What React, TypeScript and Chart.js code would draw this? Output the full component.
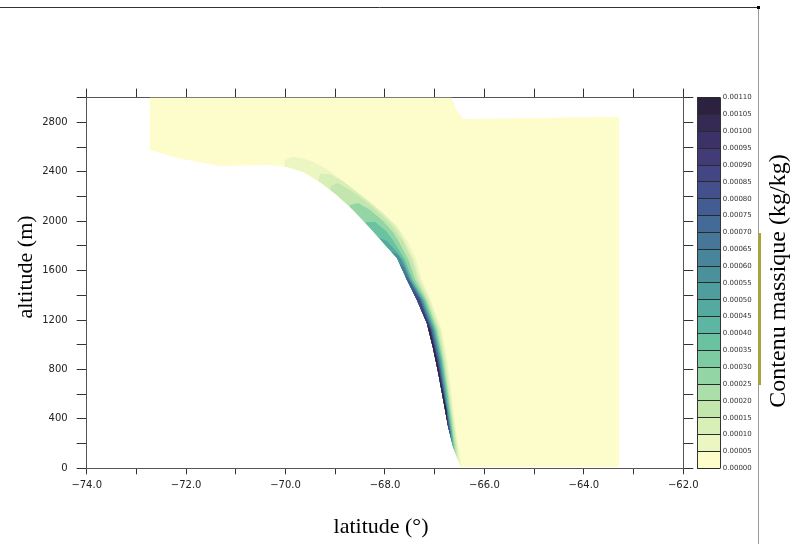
import React, { useEffect, useRef } from "react";
import { Chart, registerables } from "chart.js";

// ---------------- data ----------------
const latTicks = [-74, -73, -72, -71, -70, -69, -68, -67, -66, -65, -64, -63, -62];
const latLabels = ["\u221274.0", "", "\u221272.0", "", "\u221270.0", "", "\u221268.0", "", "\u221266.0", "", "\u221264.0", "", "\u221262.0"];
const altTicks = [0, 200, 400, 600, 800, 1000, 1200, 1400, 1600, 1800, 2000, 2200, 2400, 2600, 2800, 3000];
const altLabels = ["0", "", "400", "", "800", "", "1200", "", "1600", "", "2000", "", "2400", "", "2800", ""];
const contourLevels = [0, 0.00005, 0.0001, 0.00015, 0.0002, 0.00025, 0.0003, 0.00035, 0.0004, 0.00045, 0.0005, 0.00055, 0.0006, 0.00065, 0.0007, 0.00075, 0.0008, 0.00085, 0.0009, 0.00095, 0.001, 0.00105, 0.0011];
const contourLabels = ["0.00000", "0.00005", "0.00010", "0.00015", "0.00020", "0.00025", "0.00030", "0.00035", "0.00040", "0.00045", "0.00050", "0.00055", "0.00060", "0.00065", "0.00070", "0.00075", "0.00080", "0.00085", "0.00090", "0.00095", "0.00100", "0.00105", "0.00110"];

// model domain (value >= 0), outline in (latitude, altitude)
const domainLat = [-72.73, -66.66, -66.56, -66.43, -63.29, -63.29, -66.48, -66.63, -66.73, -66.83, -66.93, -67.04, -67.16, -67.36, -67.56, -67.76, -67.96, -68.30, -68.64, -68.97, -69.31, -69.65, -69.97, -70.31, -71.32, -72.18, -72.73];
const domainAlt = [3000, 3000, 2900, 2827, 2845, 10, 10, 172, 334, 553, 771, 982, 1176, 1362, 1525, 1702, 1791, 1945, 2091, 2212, 2317, 2398, 2438, 2454, 2446, 2511, 2576];

// contour bands: lower bound of each band and its outer contour line
const bandLevels = [0.00005, 0.0001, 0.00015, 0.00025, 0.00035, 0.00045, 0.00055, 0.00065, 0.00075, 0.00085, 0.00095, 0.00105];
const bandLat = [
  [-70.03, -70.01, -69.87, -69.67, -69.45, -69.17, -68.91, -68.56, -68.30, -68.04, -67.78, -67.56, -67.37, -67.26, -67.08, -66.86, -66.75, -66.67, -66.60, -66.53, -66.48, -66.47, -66.69],
  [-69.37, -69.31, -69.11, -68.85, -68.54, -68.26, -67.98, -67.74, -67.62, -67.42, -67.30, -67.11, -66.89, -66.78, -66.70, -66.62, -66.55, -66.52, -66.71],
  [-69.11, -69.09, -68.95, -68.70, -68.42, -68.16, -67.90, -67.65, -67.46, -67.34, -67.14, -66.92, -66.80, -66.72, -66.64, -66.57, -66.54, -66.73],
  [-68.74, -68.70, -68.54, -68.30, -68.04, -67.84, -67.74, -67.53, -67.39, -67.17, -66.95, -66.83, -66.74, -66.66, -66.60, -66.57, -66.75],
  [-68.42, -68.38, -68.20, -67.98, -67.84, -67.60, -67.44, -67.20, -66.98, -66.85, -66.76, -66.68, -66.63, -66.60, -66.77],
  [-68.14, -68.10, -67.96, -67.78, -67.64, -67.47, -67.23, -67.00, -66.87, -66.78, -66.70, -66.64, -66.62, -66.79],
  [-67.90, -67.86, -67.76, -67.67, -67.49, -67.25, -67.02, -66.89, -66.80, -66.71, -66.66, -66.64, -66.81],
  [-67.74, -67.70, -67.62, -67.51, -67.27, -67.04, -66.91, -66.81, -66.72, -66.68, -66.65, -66.83],
  [-67.62, -67.58, -67.52, -67.29, -67.06, -66.92, -66.82, -66.73, -66.68, -66.67, -66.85],
  [-67.50, -67.46, -67.42, -67.30, -67.07, -66.94, -66.83, -66.74, -66.69, -66.87],
  [-67.34, -67.28, -67.23, -67.08, -66.95, -66.84, -66.75, -66.71, -66.89],
  [-67.22, -67.14, -67.10, -66.96, -66.85, -66.76, -66.74, -66.93],
];
const bandAlt = [
  [2398, 2495, 2519, 2511, 2479, 2422, 2341, 2236, 2155, 2066, 1969, 1848, 1687, 1525, 1362, 1120, 877, 634, 391, 189, 67, 19, -20],
  [2284, 2382, 2382, 2325, 2228, 2139, 2042, 1937, 1848, 1687, 1525, 1362, 1120, 877, 634, 391, 189, 51, -20],
  [2187, 2284, 2309, 2252, 2171, 2082, 1985, 1848, 1687, 1525, 1362, 1120, 877, 634, 391, 189, 75, -20],
  [2074, 2131, 2147, 2091, 2001, 1912, 1848, 1687, 1525, 1362, 1120, 877, 634, 391, 189, 99, -20],
  [1945, 1993, 1993, 1920, 1848, 1687, 1525, 1362, 1120, 877, 634, 391, 229, 132, -20],
  [1823, 1864, 1840, 1759, 1687, 1525, 1362, 1120, 877, 634, 391, 229, 156, -20],
  [1702, 1751, 1735, 1687, 1525, 1362, 1120, 877, 634, 391, 245, 181, -20],
  [1622, 1655, 1622, 1525, 1362, 1120, 877, 634, 391, 270, 205, -20],
  [1509, 1557, 1525, 1362, 1120, 877, 634, 391, 286, 229, -20],
  [1412, 1444, 1428, 1362, 1120, 877, 634, 391, 262, -20],
  [1265, 1297, 1265, 1120, 877, 634, 391, 294, -20],
  [1120, 1152, 1120, 877, 634, 472, 351, -20],
];

// ---------------- styles ----------------
const levelColors = ["#fdfccb", "#ecf6c3", "#d9efb8", "#c3e6ae", "#abdea8", "#93d5a4", "#7dcba2", "#6bc2a2", "#5db6a2", "#55aaa0", "#4f9e9e", "#4b919c", "#48849a", "#467798", "#446a96", "#435d93", "#43508c", "#434584", "#413b77", "#3c3267", "#352a54", "#2c2240"];
const W = 795;
const H = 544;
const PLOT = { left: 86.7, right: 683.3, top: 97.6, bottom: 468.3 };
const RIGHT_AXIS_W = 14;
const CB_W = 23;
const tickFont = { family: "DejaVu Sans", size: 10 };

function tracePath(ctx: CanvasRenderingContext2D, chart: any, lats: number[], alts: number[]) {
  const sx = chart.scales.x;
  const sy = chart.scales.y;
  ctx.beginPath();
  for (let i = 0; i < lats.length; i++) {
    const px = sx.getPixelForValue(lats[i]);
    const py = sy.getPixelForValue(alts[i]);
    if (i === 0) ctx.moveTo(px, py);
    else ctx.lineTo(px, py);
  }
  ctx.closePath();
}

const contourPlugin = {
  id: "contourDecor",
  beforeDraw(chart: any) {
    const ctx: CanvasRenderingContext2D = chart.ctx;
    ctx.save();
    ctx.fillStyle = "#ffffff";
    ctx.fillRect(0, 0, W, H);
    // window frame
    ctx.strokeStyle = "#333";
    ctx.lineWidth = 1;
    ctx.beginPath();
    ctx.moveTo(0, 7.5);
    ctx.lineTo(759, 7.5);
    ctx.stroke();
    ctx.strokeStyle = "#9a9a9a";
    ctx.beginPath();
    ctx.moveTo(758.5, 8);
    ctx.lineTo(758.5, H);
    ctx.stroke();
    ctx.fillStyle = "#aaa23c";
    ctx.fillRect(758, 233, 3, 152);
    ctx.fillStyle = "#000";
    ctx.fillRect(757, 6, 3, 3);
    // colour bar boxes
    const cb = chart.scales.cb;
    const x0 = cb.left;
    for (let i = 0; i < contourLevels.length - 1; i++) {
      const y0 = cb.getPixelForValue(contourLevels[i]);
      const y1 = cb.getPixelForValue(contourLevels[i + 1]);
      ctx.fillStyle = levelColors[i];
      ctx.fillRect(x0, y1, CB_W, y0 - y1);
    }
    ctx.strokeStyle = "#333";
    ctx.beginPath();
    ctx.moveTo(Math.round(x0 + CB_W) + 0.5, cb.getPixelForValue(contourLevels[contourLevels.length - 1]));
    ctx.lineTo(Math.round(x0 + CB_W) + 0.5, cb.getPixelForValue(contourLevels[0]));
    ctx.stroke();
    ctx.restore();
  },
  beforeDatasetDraw(chart: any, args: any) {
    const ds = chart.data.datasets[args.index];
    if (!ds || ds.label !== "band") return;
    const ctx: CanvasRenderingContext2D = chart.ctx;
    ctx.save();
    tracePath(ctx, chart, domainLat, domainAlt);
    ctx.clip();
  },
  afterDatasetDraw(chart: any, args: any) {
    const ds = chart.data.datasets[args.index];
    if (!ds || ds.label !== "band") return;
    chart.ctx.restore();
  },
  afterDraw(chart: any) {
    const ctx: CanvasRenderingContext2D = chart.ctx;
    ctx.save();
    ctx.fillStyle = "#000";
    ctx.textAlign = "center";
    ctx.textBaseline = "middle";
    ctx.font = '22px "Liberation Serif"';
    ctx.fillText("latitude (\u00b0)", 381, 527);
    ctx.save();
    ctx.translate(26, 267);
    ctx.rotate(-Math.PI / 2);
    ctx.fillText("altitude (m)", 0, 0);
    ctx.restore();
    ctx.font = '24px "Liberation Serif"';
    ctx.translate(779, 281);
    ctx.rotate(-Math.PI / 2);
    ctx.fillText("Contenu massique (kg/kg)", 0, 0);
    ctx.restore();
  },
};

Chart.register(contourPlugin as any);
Chart.register(...registerables);

function buildDatasets() {
  const ds: any[] = [];
  const xMin = latTicks[0];
  const xMax = latTicks[latTicks.length - 1];
  const below = altTicks[0] - 100;
  for (let k = bandLevels.length - 1; k >= 0; k--) {
    const lats = bandLat[k];
    const alts = bandAlt[k];
    const pts: { x: number; y: number }[] = [{ x: xMin, y: below }, { x: lats[0], y: below }];
    for (let i = 0; i < lats.length; i++) pts.push({ x: lats[i], y: alts[i] });
    pts.push({ x: lats[lats.length - 1], y: below }, { x: xMax, y: below });
    ds.push({
      label: "band",
      data: pts,
      xAxisID: "x",
      yAxisID: "y",
      backgroundColor: levelColors[contourLevels.indexOf(bandLevels[k])],
      borderWidth: 0,
      pointRadius: 0,
      tension: 0,
      fill: "shape",
    });
  }
  ds.push({
    label: "domain",
    data: domainLat.map((v, i) => ({ x: v, y: domainAlt[i] })),
    xAxisID: "x",
    yAxisID: "y",
    backgroundColor: levelColors[0],
    borderWidth: 0,
    pointRadius: 0,
    tension: 0,
    fill: "shape",
  });
  return ds;
}

function hiddenLabels() {
  return "";
}

export default function App() {
  const ref = useRef<HTMLCanvasElement>(null);
  useEffect(() => {
    document.body.style.margin = "0";
    const canvas = ref.current;
    if (!canvas) return;
    const chart = new Chart(canvas, {
      type: "line",
      data: { datasets: buildDatasets() },
      options: {
        animation: false,
        responsive: false,
        devicePixelRatio: 1,
        events: [],
        layout: { padding: 0 },
        plugins: { legend: { display: false }, tooltip: { enabled: false } },
        elements: { point: { radius: 0 }, line: { tension: 0, borderWidth: 0 } },
        scales: {
          x: {
            type: "linear",
            position: "bottom",
            min: latTicks[0],
            max: latTicks[latTicks.length - 1],
            afterBuildTicks: (s: any) => {
              s.ticks = latTicks.map((v) => ({ value: v }));
            },
            ticks: { autoSkip: false, maxRotation: 0, minRotation: 0, padding: 5, color: "#222", font: tickFont, callback: (_v: any, i: number) => latLabels[i] },
            grid: { drawOnChartArea: false, drawTicks: true, tickLength: 6, tickColor: "#333" },
            border: { display: true, color: "#555" },
            afterFit: (s: any) => {
              s.height = H - PLOT.bottom;
            },
          },
          xTop: {
            type: "linear",
            position: "top",
            min: latTicks[0],
            max: latTicks[latTicks.length - 1],
            afterBuildTicks: (s: any) => {
              s.ticks = latTicks.map((v) => ({ value: v }));
            },
            ticks: { autoSkip: false, maxRotation: 0, callback: hiddenLabels },
            grid: { drawOnChartArea: false, drawTicks: true, tickLength: 9, tickColor: "#333" },
            border: { display: true, color: "#555" },
            afterFit: (s: any) => {
              s.height = PLOT.top;
            },
          },
          y: {
            type: "linear",
            position: "left",
            min: altTicks[0],
            max: altTicks[altTicks.length - 1],
            afterBuildTicks: (s: any) => {
              s.ticks = altTicks.map((v) => ({ value: v }));
            },
            ticks: { autoSkip: false, padding: 9, color: "#222", font: tickFont, callback: (_v: any, i: number) => altLabels[i] },
            grid: { drawOnChartArea: false, drawTicks: true, tickLength: 10, tickColor: "#333" },
            border: { display: true, color: "#555" },
            afterFit: (s: any) => {
              s.width = PLOT.left;
            },
          },
          yRight: {
            type: "linear",
            position: "right",
            min: altTicks[0],
            max: altTicks[altTicks.length - 1],
            afterBuildTicks: (s: any) => {
              s.ticks = altTicks.map((v) => ({ value: v }));
            },
            ticks: { autoSkip: false, callback: hiddenLabels },
            grid: { drawOnChartArea: false, drawTicks: true, tickLength: 10, tickColor: "#333" },
            border: { display: true, color: "#555" },
            afterFit: (s: any) => {
              s.width = RIGHT_AXIS_W;
            },
          },
          cb: {
            type: "linear",
            position: "right",
            weight: 1,
            min: contourLevels[0],
            max: contourLevels[contourLevels.length - 1],
            afterBuildTicks: (s: any) => {
              s.ticks = contourLevels.map((v) => ({ value: v }));
            },
            ticks: { autoSkip: false, padding: 2.5, color: "#333", font: { family: "DejaVu Sans", size: 7 }, callback: (_v: any, i: number) => contourLabels[i] },
            grid: { drawOnChartArea: false, drawTicks: true, tickLength: CB_W, tickColor: "#2a2a2a" },
            border: { display: true, color: "#333" },
            afterFit: (s: any) => {
              s.width = W - PLOT.right - RIGHT_AXIS_W;
            },
          },
        },
      } as any,
    });
    return () => chart.destroy();
  }, []);
  return (
    <div style={{ position: "absolute", left: 0, top: 0, width: W, height: H, background: "#fff" }}>
      <canvas ref={ref} width={W} height={H} style={{ display: "block", width: W, height: H }} />
    </div>
  );
}
